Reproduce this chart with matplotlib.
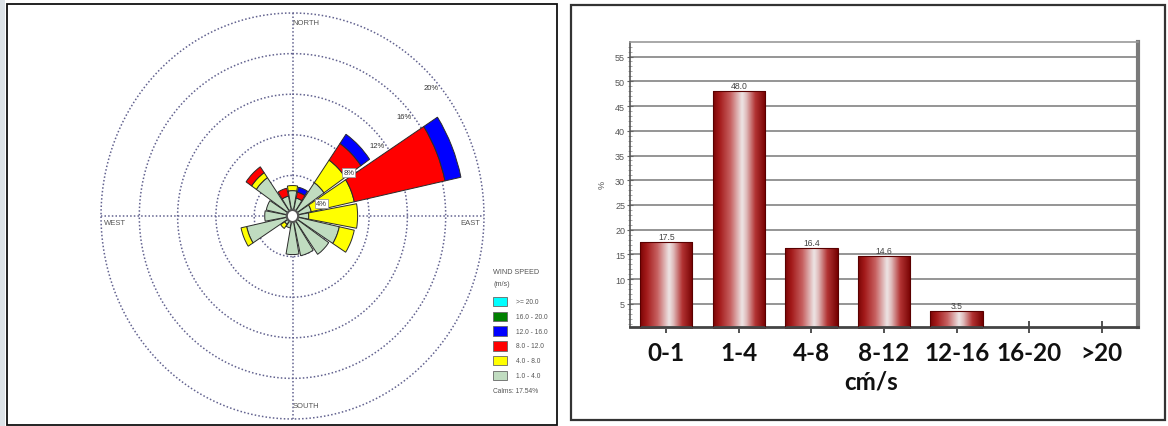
import numpy as np
import matplotlib
matplotlib.use('Agg')
import matplotlib.pyplot as plt
from matplotlib.patches import Rectangle
from matplotlib.colors import LinearSegmentedColormap

# ---------------- wind rose data ----------------
directions = ['N', 'NNE', 'NE', 'ENE', 'E', 'ESE', 'SE', 'SSE',
              'S', 'SSW', 'SW', 'WSW', 'W', 'WNW', 'NW', 'NNW']
speed_classes = ['1.0 - 4.0', '4.0 - 8.0', '8.0 - 12.0',
                 '12.0 - 16.0', '16.0 - 20.0', '>= 20.0']
# frequency (%) of each speed class per direction
freq_1_4   = [2.5, 1.8, 4.0, 2.0, 1.7, 5.0, 4.6, 4.0, 3.8, 1.2, 1.0, 4.9, 2.9, 2.8, 4.6, 2.0]
freq_4_8   = [0.5, 0.0, 2.7, 4.6, 5.1, 1.6, 0.0, 0.0, 0.0, 0.0, 0.5, 0.6, 0.0, 0.0, 0.6, 0.0]
freq_8_12  = [0.0, 0.6, 2.0, 9.7, 0.0, 0.0, 0.0, 0.0, 0.0, 0.0, 0.0, 0.0, 0.0, 0.0, 0.7, 0.8]
freq_12_16 = [0.0, 0.5, 1.1, 1.7, 0.0, 0.0, 0.0, 0.0, 0.0, 0.0, 0.0, 0.0, 0.0, 0.0, 0.0, 0.0]
freq_16_20 = [0.0, 0.0, 0.0, 0.0, 0.0, 0.0, 0.0, 0.0, 0.0, 0.0, 0.0, 0.0, 0.0, 0.0, 0.0, 0.0]
freq_20    = [0.0, 0.0, 0.0, 0.0, 0.0, 0.0, 0.0, 0.0, 0.0, 0.0, 0.0, 0.0, 0.0, 0.0, 0.0, 0.0]
class_colors = ['#c0dcc0', '#ffff00', '#ff0000', '#0000ff', '#008000', '#00ffff']
calms = 17.54
ring_values = [4, 8, 12, 16, 20]

# ---------------- bar chart data ----------------
speed_bins = ['0-1', '1-4', '4-8', '8-12', '12-16', '16-20', '>20']
bin_percent = [17.5, 48.0, 16.4, 14.6, 3.5, 0.0, 0.0]
y_ticks = [5, 10, 15, 20, 25, 30, 35, 40, 45, 50, 55]

W, H = 1168, 427
fig = plt.figure(figsize=(W / 100, H / 100), dpi=100)
fig.patch.set_facecolor('white')

def fx(x):
    return x / W

def fy(y):
    return 1 - y / H

# panel frames
fig.add_artist(Rectangle((0, 0), fx(5), 1, transform=fig.transFigure,
                         facecolor='#dde3e8', edgecolor='none', zorder=0))
fig.add_artist(Rectangle((fx(7), fy(426)), fx(557) - fx(7), fy(5) - fy(426),
                         transform=fig.transFigure, facecolor='none',
                         edgecolor='#111111', lw=1.3, zorder=10))
fig.add_artist(Rectangle((fx(571), fy(421)), fx(1165) - fx(571), fy(6) - fy(421),
                         transform=fig.transFigure, facecolor='none',
                         edgecolor='#333333', lw=1.6, zorder=10))

# ---------------- wind rose ----------------
rmax = 20.5
cx, cy = 292.5, 217
rx, ry = 191.5 * rmax / 20, 203 * rmax / 20
ax = fig.add_axes([fx(cx - rx), fy(cy + ry), 2 * rx / W, 2 * ry / H], projection='polar')
ax.set_aspect('auto')
ax.set_theta_zero_location('N')
ax.set_theta_direction(-1)
ax.set_ylim(0, rmax)
ax.set_xticks([])
ax.set_yticks([])
ax.grid(False)
ax.spines['polar'].set_visible(False)
ax.patch.set_visible(False)

ring_color = '#62628f'
th = np.linspace(0, 2 * np.pi, 721)
for r in ring_values:
    ax.plot(th, np.full_like(th, r), color=ring_color, lw=1.1,
            ls=(0, (1, 1.4)), zorder=1)
for a in [0, 90, 180, 270]:
    ax.plot([np.deg2rad(a)] * 2, [0, ring_values[-1]], color=ring_color,
            lw=1.1, ls=(0, (1, 1.4)), zorder=1)

theta = np.deg2rad(np.arange(len(directions)) * 22.5)
series = [freq_1_4, freq_4_8, freq_8_12, freq_12_16, freq_16_20, freq_20]
bottom = np.zeros(len(directions))
for freqs, col in zip(series, class_colors):
    f = np.array(freqs)
    m = f > 0
    if m.any():
        ax.bar(theta[m], f[m], width=np.deg2rad(20.5), bottom=bottom[m],
               color=col, edgecolor='#2a2a2a', lw=0.7, zorder=3)
    bottom += f

# calm circle
ax.fill(th, np.full_like(th, 0.6), color='white', zorder=4)
ax.plot(th, np.full_like(th, 0.6), color='#555555', lw=1.6, zorder=5)

# ring labels
label_angles = [68, 54, 52, 50, 49]
for r, ang in zip(ring_values, label_angles):
    kw = {}
    if r <= 8:
        kw['bbox'] = dict(boxstyle='square,pad=0.15', facecolor='white',
                          edgecolor='#999999', lw=0.6)
    ax.text(np.deg2rad(ang), r - 0.75, f'{r}%', fontsize=5.5, color='#333333',
            ha='center', va='center', family='Liberation Sans', zorder=6, **kw)

dir_kw = dict(fontsize=5.5, color='#555555', family='Liberation Sans', zorder=6)
ax.text(0, 19.1, 'NORTH', ha='left', va='center', **dir_kw)
ax.text(np.pi, 18.7, 'SOUTH', ha='left', va='center', **dir_kw)
ax.text(np.deg2rad(268), 19.7, 'WEST', ha='left', va='center', **dir_kw)
ax.text(np.deg2rad(92), 19.6, 'EAST', ha='right', va='center', **dir_kw)

# legend
leg_kw = dict(color='#555555', family='Liberation Sans', transform=fig.transFigure)
fig.text(fx(493), fy(273), 'WIND SPEED', fontsize=5.2, va='center', **leg_kw)
fig.text(fx(493), fy(285), '(m/s)', fontsize=5.2, va='center', **leg_kw)
box_tops = [297.7, 312.5, 327.3, 342.1, 356.9, 371.7]
for i, (lab, col) in enumerate(zip(speed_classes[::-1], class_colors[::-1])):
    top = box_tops[i]
    fig.add_artist(Rectangle((fx(492.7), fy(top + 9.5)), 14.5 / W, 9.5 / H,
                             transform=fig.transFigure, facecolor=col,
                             edgecolor='#666666', lw=0.6))
    fig.text(fx(516), fy(top + 4.8), lab, fontsize=4.8, va='center', **leg_kw)
fig.text(fx(493), fy(392), f'Calms: {calms:.2f}%', fontsize=4.8, va='center', **leg_kw)

# ---------------- bar chart ----------------
axb = fig.add_axes([fx(630), fy(327.7), (1138 - 630) / W, (327.7 - 42.7) / H])
x = np.arange(len(speed_bins))
bars = axb.bar(x, bin_percent, width=0.72, color='none', edgecolor='#5a0000',
               lw=0.8, zorder=3)

cmap = LinearSegmentedColormap.from_list('cyl', [
    (0.0, (0.48, 0.02, 0.02)),
    (0.12, (0.64, 0.10, 0.10)),
    (0.33, (0.78, 0.38, 0.38)),
    (0.55, (0.93, 0.90, 0.90)),
    (0.63, (0.88, 0.74, 0.74)),
    (0.80, (0.70, 0.20, 0.20)),
    (1.0, (0.46, 0.0, 0.0)),
])
grad = np.linspace(0, 1, 256).reshape(1, -1)
for rect in bars:
    x0, y0 = rect.get_x(), rect.get_y()
    w, h = rect.get_width(), rect.get_height()
    if h <= 0:
        continue
    im = axb.imshow(grad, extent=[x0, x0 + w, y0, y0 + h], aspect='auto',
                    cmap=cmap, interpolation='bicubic', zorder=2)
    im.set_clip_path(rect)

for xi, v in zip(x, bin_percent):
    if v > 0:
        axb.text(xi, v + 0.2, f'{v:.1f}', ha='center', va='bottom', fontsize=6.2,
                 color='#444444', family='Liberation Sans', zorder=4)

axb.set_xlim(-0.5, len(speed_bins) - 0.5)
axb.set_ylim(0.4, 58)
axb.set_xticks(x)
axb.set_xticklabels(speed_bins, fontsize=17.5, fontweight='bold',
                    family=['Lato', 'DejaVu Sans'], color='#111111')
axb.set_yticks(y_ticks)
axb.set_yticklabels([str(t) for t in y_ticks], fontsize=6.5, color='#555555',
                    family='Liberation Sans')
axb.set_yticks(np.arange(1, 58, 1), minor=True)
axb.tick_params(axis='x', direction='inout', length=8, width=1.2, color='#333333', pad=6)
axb.tick_params(axis='y', which='major', direction='inout', length=5, width=0.8,
                color='#666666', pad=1)
axb.tick_params(axis='y', which='minor', direction='inout', length=3, width=0.5,
                color='#888888')
axb.yaxis.grid(True, color='#8c8c8c', lw=1.3, zorder=0)
axb.set_axisbelow(True)
axb.spines['top'].set_color('#999999')
axb.spines['top'].set_linewidth(1.2)
axb.spines['right'].set_color('#7a7a7a')
axb.spines['right'].set_linewidth(3)
axb.spines['bottom'].set_color('#444444')
axb.spines['bottom'].set_linewidth(2)
axb.spines['left'].set_color('#555555')
axb.spines['left'].set_linewidth(1.2)
axb.set_ylabel('%', fontsize=6.5, color='#555555', family='Liberation Sans', labelpad=6)
fig.text(fx(871), fy(382), 'cḿ/s', fontsize=17.5, fontweight='bold',
         family=['Lato', 'DejaVu Sans'], color='#111111', ha='center', va='center')

fig.savefig('out.png', dpi=100)
